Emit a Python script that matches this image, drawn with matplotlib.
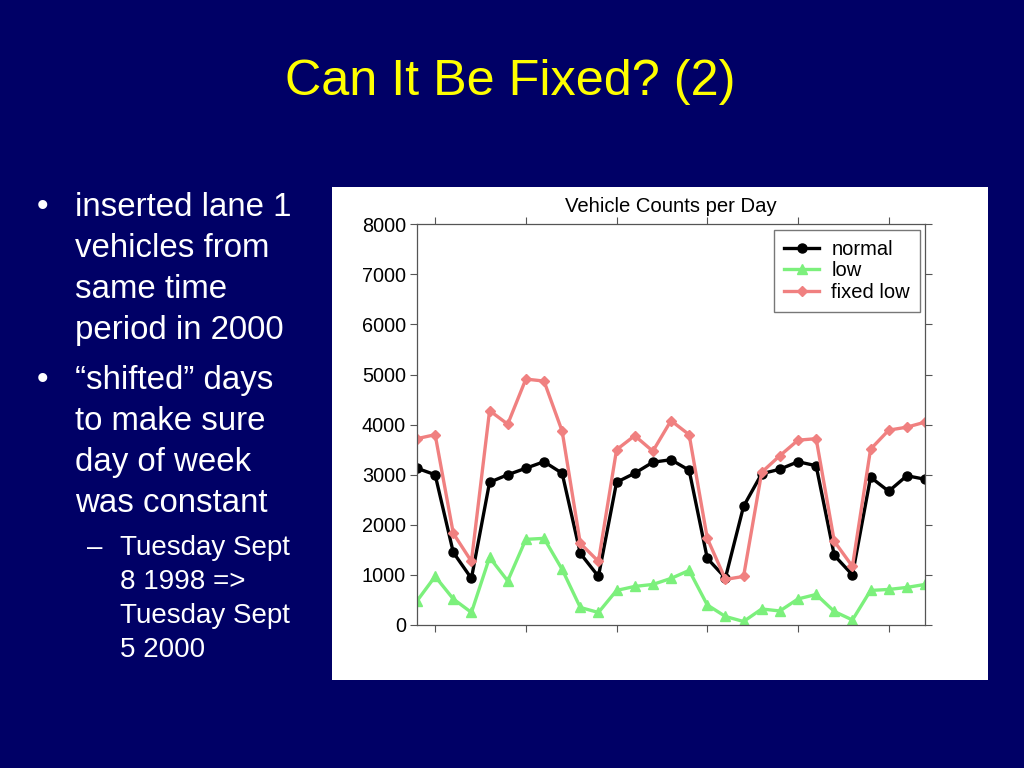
import matplotlib.pyplot as plt
from matplotlib.patches import Rectangle

# Data
days = list(range(29))
normal = [3130, 3000, 1450, 930, 2850, 3000, 3130, 3260, 3030, 1430, 970,
          2850, 3030, 3250, 3300, 3090, 1330, 940, 2370, 3020, 3110, 3260,
          3180, 1390, 1000, 2950, 2670, 2980, 2910]
low = [480, 970, 520, 250, 1350, 880, 1710, 1730, 1110, 350, 250,
       690, 770, 810, 930, 1090, 400, 170, 70, 320, 280, 520,
       610, 270, 100, 690, 710, 750, 810]
fixed_low = [3720, 3800, 1830, 1270, 4280, 4010, 4910, 4870, 3870, 1630, 1270,
             3500, 3780, 3470, 4080, 3800, 1730, 910, 970, 3050, 3380, 3690,
             3720, 1670, 1170, 3510, 3890, 3950, 4050]
x_ticks = [1, 6, 11, 16, 21, 26]
y_ticks = [0, 1000, 2000, 3000, 4000, 5000, 6000, 7000, 8000]

W, H = 1024, 768
bg = '#000066'
font = 'Liberation Sans'

fig = plt.figure(figsize=(W / 100, H / 100), dpi=100, facecolor=bg)

def fx(px):
    return px / W

def fy(py):
    return 1 - py / H

# titulek slajdu
fig.text(fx(510), fy(95), 'Can It Be Fixed? (2)', color='#ffff00', fontsize=36.3,
         family=font, ha='center', va='baseline')

# odrážky
bullets = [
    (216, ['inserted lane 1', 'vehicles from', 'same time', 'period in 2000']),
    (389, ['\u201cshifted\u201d days', 'to make sure', 'day of week', 'was constant']),
]
for y0, lines in bullets:
    fig.text(fx(42), fy(y0), '\u2022', color='white', fontsize=23.8, family=font,
             ha='center', va='baseline')
    for i, line in enumerate(lines):
        fig.text(fx(75), fy(y0 + i * 41), line, color='white', fontsize=23.8,
                 family=font, ha='left', va='baseline')

sub_lines = ['Tuesday Sept', '8 1998 =>', 'Tuesday Sept', '5 2000']
fig.text(fx(95), fy(555), '\u2013', color='white', fontsize=20, family=font,
         ha='center', va='baseline')
for i, line in enumerate(sub_lines):
    fig.text(fx(120), fy(555 + i * 34), line, color='white', fontsize=20,
             family=font, ha='left', va='baseline')

# bílé pozadí grafu
fig.add_artist(Rectangle((fx(332), fy(680)), fx(988) - fx(332), fy(187) - fy(680),
                         transform=fig.transFigure, facecolor='white',
                         edgecolor='none', zorder=0))

ax = fig.add_axes([fx(417), fy(625), fx(925) - fx(417), fy(224.3) - fy(625)])
ax.set_facecolor('white')

ax.plot(days, normal, color='black', lw=2.4, marker='o', ms=6.5, label='normal')
ax.plot(days, low, color='#7cf07c', lw=2.4, marker='^', ms=6.5, label='low')
ax.plot(days, fixed_low, color='#f08080', lw=2.4, marker='D', ms=5.5, label='fixed low')

ax.set_xlim(0, 28)
ax.set_ylim(0, 8000)
ax.set_xticks(x_ticks)
ax.set_xticklabels([])
ax.set_yticks(y_ticks)
ax.set_yticklabels([str(v) for v in y_ticks], family=font, fontsize=14.3)
ax.tick_params(direction='out', length=5, width=0.8, color='#555555',
               top=True, right=True, pad=3)
for s in ax.spines.values():
    s.set_color('#555555')
    s.set_linewidth(0.9)

ax.set_title('Vehicle Counts per Day', family=font, fontsize=14.6, pad=9)

leg = ax.legend(loc='upper right', bbox_to_anchor=(0.99, 0.986), borderaxespad=0,
                fancybox=False, edgecolor='#777777',
                prop={'family': font, 'size': 14.5},
                handlelength=1.75, borderpad=0.5, labelspacing=0.12,
                handletextpad=0.6, framealpha=1)

fig.savefig('out.png', dpi=100, facecolor=bg)
